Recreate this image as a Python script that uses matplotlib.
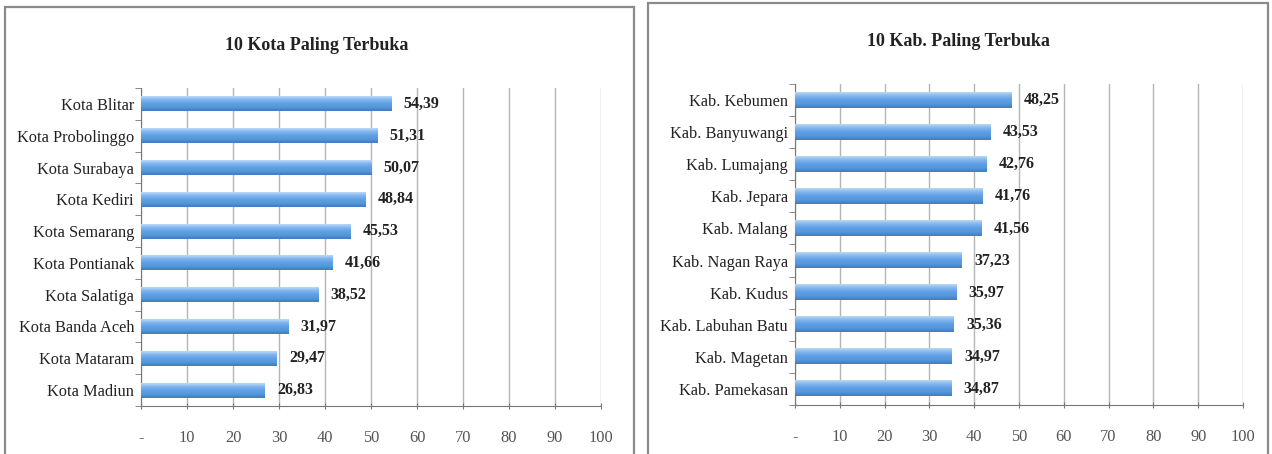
import matplotlib.pyplot as plt
from matplotlib.patches import Rectangle
from matplotlib.colors import LinearSegmentedColormap
import numpy as np

plt.rcParams['font.family'] = ['Liberation Serif', 'DejaVu Serif']

# data
kota_nama = ["Kota Blitar", "Kota Probolinggo", "Kota Surabaya", "Kota Kediri", "Kota Semarang",
             "Kota Pontianak", "Kota Salatiga", "Kota Banda Aceh", "Kota Mataram", "Kota Madiun"]
kota_nilai = [54.39, 51.31, 50.07, 48.84, 45.53, 41.66, 38.52, 31.97, 29.47, 26.83]

kab_nama = ["Kab. Kebumen", "Kab. Banyuwangi", "Kab. Lumajang", "Kab. Jepara", "Kab. Malang",
            "Kab. Nagan Raya", "Kab. Kudus", "Kab. Labuhan Batu", "Kab. Magetan", "Kab. Pamekasan"]
kab_nilai = [48.25, 43.53, 42.76, 41.76, 41.56, 37.23, 35.97, 35.36, 34.97, 34.87]

x_ticks = [0, 10, 20, 30, 40, 50, 60, 70, 80, 90, 100]
x_ticklabels = ["-", "10", "20", "30", "40", "50", "60", "70", "80", "90", "100"]

W, H = 1272, 454
fig = plt.figure(figsize=(W / 100, H / 100), dpi=100)

# gradien batang: atas terang, tengah biru, bawah lebih gelap
biru = LinearSegmentedColormap.from_list("biru", ["#b9d8f7", "#7fb4ec", "#5f9fe3", "#5696dc", "#3f7cc2"])
grad = np.linspace(0, 1, 64).reshape(-1, 1)


def kotak(x0, y0, x1, y1):
    # bingkai grafik ala Excel (koordinat piksel, y dari atas)
    fig.patches.append(Rectangle((x0 / W, 1 - y1 / H), (x1 - x0) / W, (y1 - y0) / H,
                                 transform=fig.transFigure, fill=False,
                                 edgecolor="#8a8a8a", linewidth=1.6))


def grafik(rect, nama, nilai, judul, judul_xy):
    ax = fig.add_axes(rect)
    pos = np.arange(len(nama))
    tinggi = 0.47
    bars = ax.barh(pos, nilai, height=tinggi, color="none", linewidth=0, zorder=3)
    for b in bars:
        x, y = b.get_x(), b.get_y()
        w, h = b.get_width(), b.get_height()
        ax.imshow(grad, cmap=biru, aspect="auto", extent=(x, x + w, y, y + h),
                  origin="lower", zorder=3, interpolation="bilinear")
    for p, v in zip(pos, nilai):
        ax.annotate(f"{v:.2f}".replace(".", ","), (v, p), xytext=(9, 0), textcoords="offset points",
                    va="center", ha="left", fontsize=11.5, fontweight="bold", color="#222222")
    ax.set_ylim(len(nama) - 0.5, -0.5)
    ax.set_xlim(0, 100)
    ax.set_aspect("auto")
    ax.set_yticks(pos)
    ax.set_yticklabels(nama, fontsize=11.8, color="#222222")
    ax.set_yticks(np.arange(-0.5, len(nama), 1), minor=True)
    ax.tick_params(axis="y", which="major", length=0, pad=5)
    ax.tick_params(axis="y", which="minor", length=4, color="#777777")
    ax.set_xticks(x_ticks)
    ax.set_xticklabels(x_ticklabels, fontsize=11.8, color="#555555")
    ax.tick_params(axis="x", length=5, direction="inout", color="#777777", pad=15)
    ax.grid(axis="x", color="#b5b5b5", linewidth=1, zorder=0)
    ax.set_axisbelow(True)
    for s in ["top", "right"]:
        ax.spines[s].set_visible(False)
    ax.spines["left"].set_color("#777777")
    ax.spines["bottom"].set_color("#777777")
    fig.text(judul_xy[0] / W, 1 - judul_xy[1] / H, judul, ha="center", va="center",
             fontsize=13, fontweight="bold", color="#222222")
    return ax


kotak(5, 7, 634, 470)
kotak(648, 3, 1268, 470)

grafik([141 / W, 1 - 406 / H, 460 / W, 318 / H], kota_nama, kota_nilai, "10 Kota Paling Terbuka", (317, 46))
grafik([795 / W, 1 - 405 / H, 448 / W, 321 / H], kab_nama, kab_nilai, "10 Kab. Paling Terbuka", (958, 41))

fig.savefig("out.png", dpi=100)
